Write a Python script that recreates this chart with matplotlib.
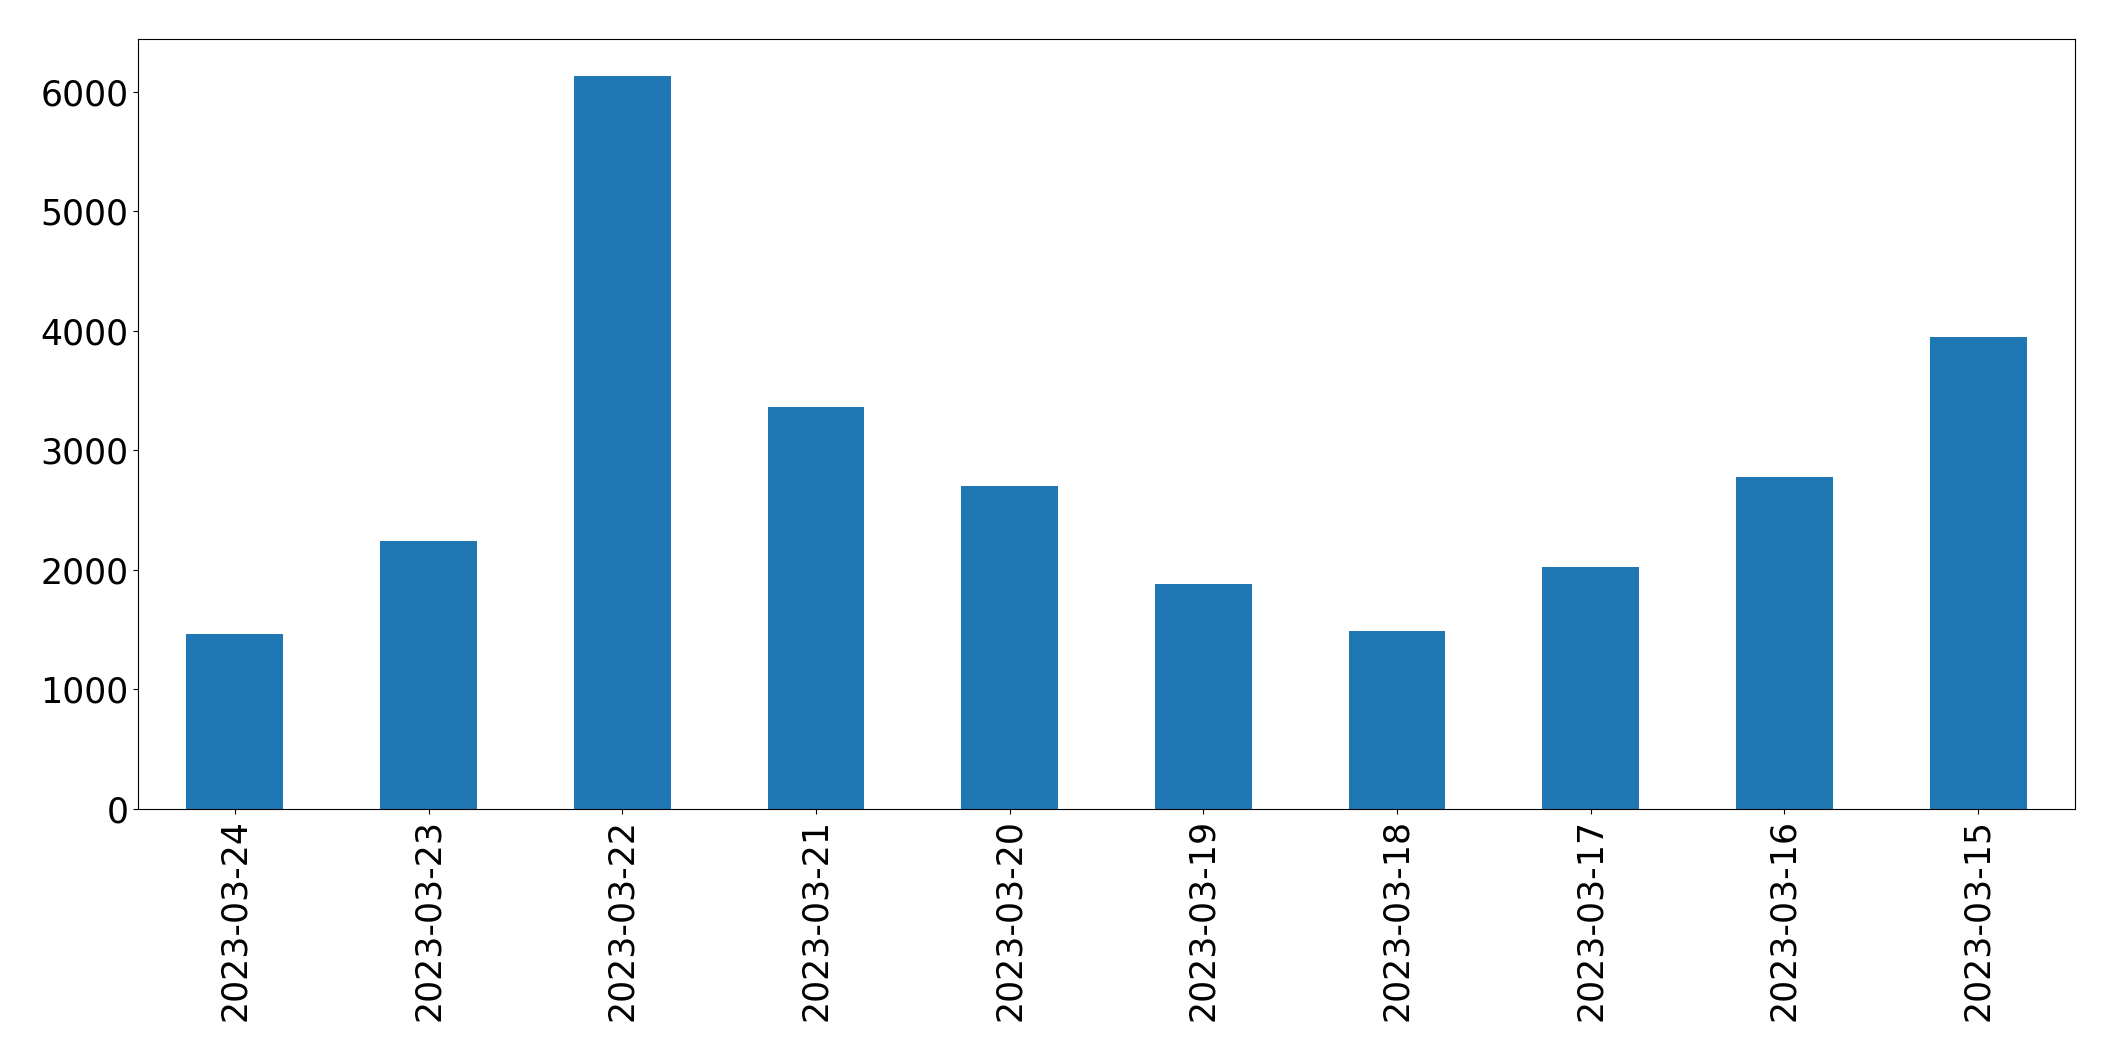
import matplotlib
matplotlib.use("Agg")
import matplotlib.pyplot as plt
import numpy as np

dates = ["2023-03-24", "2023-03-23", "2023-03-22", "2023-03-21", "2023-03-20",
         "2023-03-19", "2023-03-18", "2023-03-17", "2023-03-16", "2023-03-15"]
counts = [1466, 2240, 6135, 3360, 2700, 1880, 1487, 2025, 2778, 3947]

fig = plt.figure(figsize=(21.15, 10.61), dpi=100)
ax = fig.add_axes([138 / 2115, 1 - 809 / 1061, (2075 - 138) / 2115, (809 - 39) / 1061])

x = np.arange(len(dates))
ax.bar(x, counts, width=0.5, color="#1f77b4")
ax.set_xlim(-0.5, len(dates) - 0.5)
ax.set_xticks(x)
ax.set_xticklabels(dates, rotation=90)
ax.tick_params(axis="both", labelsize=25)

fig.savefig("out.png", dpi=100)
